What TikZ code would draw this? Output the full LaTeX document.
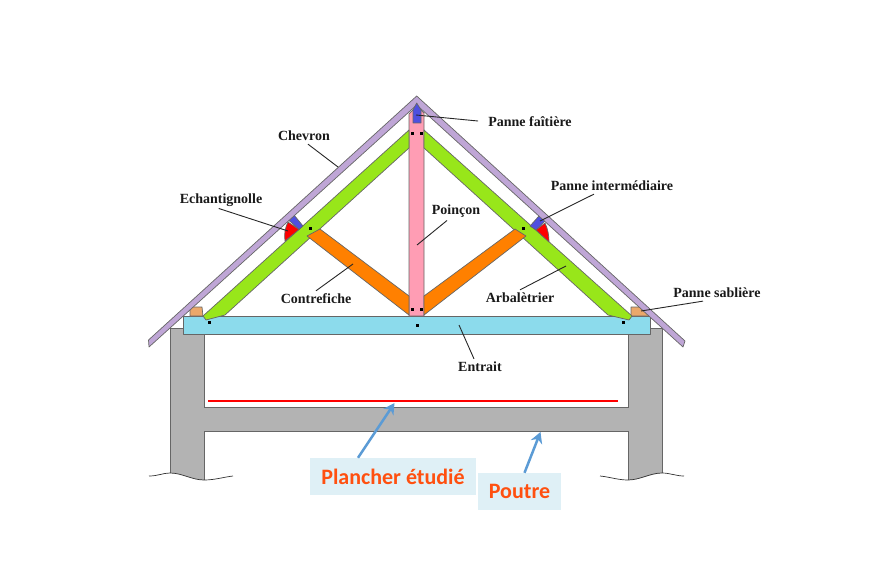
\documentclass[tikz,border=0pt]{standalone}
\usepackage{fontspec}
\setmainfont{Liberation Serif}
\newfontfamily\calloutfont{Carlito}
\usepackage{tikz}
\usetikzlibrary{
    arrows.meta,
    positioning,
}
\definecolor{MyPurple}{HTML}{BFA6D6}
\definecolor{MyGreen}{HTML}{98E61A}
\definecolor{MyOrange}{HTML}{FF8000}
\definecolor{MyPink}{HTML}{FF9DB4}
\definecolor{MyCyan}{HTML}{8CDBEC}
\definecolor{MyGrey}{HTML}{B3B3B3}
\definecolor{MyBlue}{HTML}{4F4FE0}
\definecolor{MyTan}{HTML}{EBA86A}
\definecolor{MyArrow}{HTML}{5B9BD5}
\definecolor{MyBoxBG}{HTML}{DFF0F6}
\definecolor{MyCallout}{HTML}{FF5010}
\tikzstyle{wood}=[draw=black!60,line width=.7pt,line join=round]
\tikzstyle{part}=[font=\fontsize{14}{16}\selectfont\bfseries,inner sep=0pt,text=black!90]
\tikzstyle{leader}=[draw=black!85,line width=.9pt]
\tikzstyle{pin}=[fill=black,inner sep=0pt,minimum size=3pt]
\tikzstyle{callout}=[fill=MyBoxBG,text=MyCallout,font=\calloutfont\fontsize{22}{26}\selectfont\bfseries,inner sep=0pt,minimum height=37pt]
\tikzstyle{pointer}=[-{Stealth[length=11pt,width=12pt]},draw=MyArrow,line width=2.5pt]
\newcommand{\Part}[4]{%
    \node[part] (#1) at (#2) {#3};
    \coordinate (#1 end) at (#4);
}
\begin{document}
\begin{tikzpicture}[x=1pt,y=-1pt]
    \useasboundingbox (0,0) rectangle (879,567);

    % Masonry
    \fill[MyGrey] (170,328) -- (183,328) -- (183,334) -- (204,334) -- (204,407) -- (628,407)
        -- (628,334) -- (650,334) -- (650,328) -- (662,328) -- (662,473)
        .. controls (650,474) and (640,480) .. (628,480) -- (628,431) -- (204,431) -- (204,480)
        .. controls (192,480) and (182,473) .. (170,473) -- cycle;
    \draw[black!60,line width=.8pt] (170,473) -- (170,328) -- (183,328);
    \draw[black!60,line width=.8pt] (650,328) -- (662,328) -- (662,473);
    \draw[black!60,line width=.8pt] (204,334) -- (204,407) -- (628,407) -- (628,334);
    \draw[black!60,line width=.8pt] (204,480) -- (204,431) -- (628,431) -- (628,480);
    \draw[black!80,line width=.7pt] (149,476) .. controls (158,476) and (163,473) .. (170,473)
        .. controls (182,473) and (192,480) .. (204,480) .. controls (215,480) and (224,477) .. (233,476);
    \draw[black!80,line width=.7pt] (600,476) .. controls (610,477) and (618,480) .. (628,480)
        .. controls (640,480) and (650,473) .. (662,473) .. controls (670,473) and (676,476) .. (684,476);

    % Tie beam and wall plates
    \draw[wood,fill=MyCyan] (183,316) rectangle (650,334);
    \draw[wood,fill=MyTan] (190,316) -- (190,307) -- (202,307) -- (203,316) -- cycle;
    \draw[wood,fill=MyTan] (631,316) -- (631,307) -- (642,307) -- (650,316) -- cycle;

    % Truss
    \draw[wood,fill=MyPink] (409,114) -- (416.5,106) -- (424,113) -- (424,316) -- (409,316) -- cycle;
    \draw[wood,fill=MyGreen] (409,130) -- (409,148) -- (225,315) -- (206,320) -- (203,316) -- cycle;
    \draw[wood,fill=MyGreen] (424,130) -- (424,148) -- (608,315) -- (629,320) -- (632,316) -- cycle;
    \draw[wood,fill=MyOrange] (320,229) -- (409,296) -- (409,315) -- (307,236) -- cycle;
    \draw[wood,fill=MyOrange] (515,229) -- (526,236) -- (424,315) -- (424,296) -- cycle;

    % Cleats
    \draw[wood,fill=MyBlue] (288,219.5) -- (294,215) -- (303,226) -- (299,229.5) -- cycle;
    \draw[wood,fill=MyBlue] (530,226) -- (539,216) -- (546,220) -- (536,230) -- cycle;
    \draw[wood,fill=red] (288,222) -- (299,229.5) -- (285,241) .. controls (284,234) and (285,228) .. (288,222) -- cycle;
    \draw[wood,fill=red] (536,230) -- (545,223) .. controls (548,229) and (549,236) .. (549,242) -- cycle;

    % Rafters
    \draw[wood,fill=MyPurple] (416.7,96) -- (148.5,340) -- (149,347) -- (416.7,105) -- (683,347) -- (685,341) -- cycle;
    \draw[wood,fill=MyBlue] (416.7,103) -- (421,110) -- (421,123) -- (413,123) -- (413,110) -- cycle;

    % Pins
    \foreach \pinname/\pinpos in {a/{412,134},b/{421,134},c/{412,309},d/{421,309},e/{417,325},f/{209,322},g/{623,322},h/{310,229},i/{523,229}}
        \node[pin] (pin \pinname) at (\pinpos) {};

    % Labels
    \Part{Chevron}{304,136}{Chevron}{338,167};
    \Part{Echantignolle}{221,200}{Echantignolle}{288,231};
    \Part{Faitiere}{530,122}{Panne faîtière}{416,115};
    \Part{Intermediaire}{612,186}{Panne intermédiaire}{540,221};
    \Part{Poincon}{456,211}{Poinçon}{417,245};
    \Part{Contrefiche}{316,299}{Contrefiche}{353,264};
    \Part{Arbaletrier}{520,298}{Arbalètrier}{566,266};
    \Part{Sabliere}{717,293}{Panne sablière}{641,311};
    \Part{Entrait}{480,367}{Entrait}{459,325};
    \draw[leader,shorten <=5pt] (Chevron.south) -- (Chevron end);
    \draw[leader,shorten <=6pt] ([xshift=-8pt]Echantignolle.south) -- (Echantignolle end);
    \draw[leader,shorten <=10pt] (Faitiere.west) -- (Faitiere end);
    \draw[leader] ([xshift=-18pt,yshift=-3pt]Intermediaire.south) -- (Intermediaire end);
    \draw[leader] ([xshift=-9pt,yshift=-3pt]Poincon.south) -- (Poincon end);
    \draw[leader] ([yshift=3pt]Contrefiche.north) -- (Contrefiche end);
    \draw[leader] ([yshift=3pt]Arbaletrier.north) -- (Arbaletrier end);
    \draw[leader] ([xshift=-14pt,yshift=-3pt]Sabliere.south) -- (Sabliere end);
    \draw[leader] ([xshift=-6pt,yshift=3pt]Entrait.north) -- (Entrait end);

    % Studied floor
    \node[inner sep=0pt,minimum size=0pt] (floor left) at (208,401) {};
    \node[inner sep=0pt,minimum size=0pt] (floor right) at (618,401) {};
    \draw[red,line width=2.6pt] (floor left) -- (floor right);
    \node[callout,minimum width=166pt] (Plancher) at (393,476.5) {Plancher étudié};
    \node[callout,minimum width=83pt] (Poutre) at (519.5,491.5) {Poutre};
    \coordinate (Plancher tip) at (394.5,403);
    \coordinate (Poutre tip) at (540.5,432);
    \draw[pointer] ([xshift=-35pt]Plancher.north) -- (Plancher tip);
    \draw[pointer] ([xshift=5pt]Poutre.north) -- (Poutre tip);
\end{tikzpicture}
\end{document}
